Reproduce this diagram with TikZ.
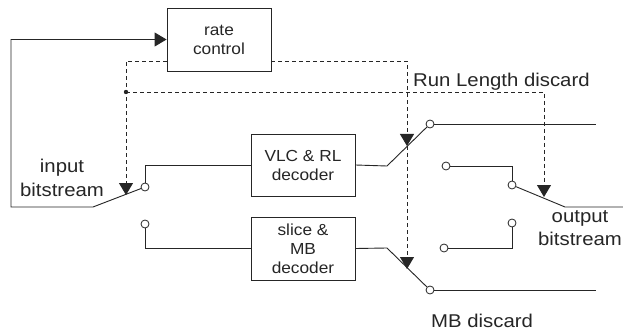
\documentclass[tikz,border=0pt]{standalone}
\usepackage{fontspec}
\setmainfont{Liberation Sans}
\newfontfamily\labfont[FakeStretch=1.1]{Liberation Sans}
\newfontfamily\boxfont[FakeStretch=1.08]{Liberation Sans}
\usetikzlibrary{arrows.meta}
\begin{document}
\begin{tikzpicture}[x=1pt,y=-1pt,
  wire/.style={line width=0.9pt,draw=black!85},
  dwire/.style={line width=0.9pt,draw=black!85,dash pattern=on 4pt off 3pt},
  tip/.style={-{Triangle[length=12pt,width=14pt]}},
  blockbox/.style={draw=black!85,line width=0.9pt,fill=white,minimum width=104pt,minimum height=63pt,inner sep=0pt,align=center,text=black!85,font=\boxfont\fontsize{16}{19}\selectfont},
  contact/.style={circle,draw=black!85,line width=0.8pt,fill=white,minimum size=8pt,inner sep=0pt},
  lab/.style={inner sep=0pt,align=center,text=black!85,font=\labfont\fontsize{18.5}{23.5}\selectfont}]
\useasboundingbox[fill=white] (0,0) rectangle (623,331);
% blocks
\node[blockbox] (rc) at (219,39.5) {rate\\control};
\node[blockbox,minimum height=62pt] (vlc) at (303,165) {VLC \& RL\\decoder};
\node[blockbox] (sl) at (303,248.5) {slice \&\\MB\\decoder};
% contacts
\node[contact] (c1) at (145,187) {};
\node[contact] (c2) at (145,224) {};
\node[contact] (c3) at (430,124) {};
\node[contact] (c4) at (446,166) {};
\node[contact] (c5) at (512,185) {};
\node[contact] (c6) at (512,223) {};
\node[contact] (c7) at (444,248) {};
\node[contact] (c8) at (430,290) {};
% pivots and ends
\coordinate (pv1) at (93,207);
\coordinate (fb) at (11,207);
\coordinate (pv2) at (387,166);
\coordinate (pv3) at (565,207);
\coordinate (pv4) at (387,248);
\coordinate (e1) at (596,124);
\coordinate (e2) at (623,207);
\coordinate (e3) at (596,290);
% control taps
\coordinate (dl) at (126,61);
\coordinate (dr) at (407,61);
\coordinate (dot) at (126,92);
\coordinate (dd) at (544,92);
\coordinate (a1) at (126,195);
\coordinate (a2) at (407,146);
\coordinate (a3) at (407,269);
\coordinate (a4) at (544,197);
% solid wiring
\draw[wire,tip] (c1) -- (pv1) -- (fb) |- (rc.west);
\draw[wire] (c1) |- (vlc.west);
\draw[wire] (c2) |- (sl.west);
\draw[wire] (vlc.east) -- (pv2) -- (c3);
\draw[wire] (c3) -- (e1);
\draw[wire] (c4) -| (c5);
\draw[wire] (c5) -- (pv3) -- (e2);
\draw[wire] (c6) |- (c7);
\draw[wire] (sl.east) -- (pv4) -- (c8);
\draw[wire] (c8) -- (e3);
% dashed control
\draw[dwire,tip] (rc.west |- dl) -- (dl) -- (a1);
\draw[dwire,tip] (rc.east |- dr) -- (dr) -- (a2);
\draw[dwire,tip] (a2) -- (a3);
\draw[dwire,tip] (dot) -- (dd) -- (a4);
\fill[black!85] (dot) circle (2.2pt);
% labels
\node[lab] (inlab) at (62,178) {input\\bitstream};
\node[lab] (outlab) at (580,228) {output\\bitstream};
\node[lab,anchor=base west] (rld) at (413,87) {Run Length discard};
\node[lab,anchor=base west] (mbd) at (431,327) {MB discard};
\end{tikzpicture}
\end{document}
